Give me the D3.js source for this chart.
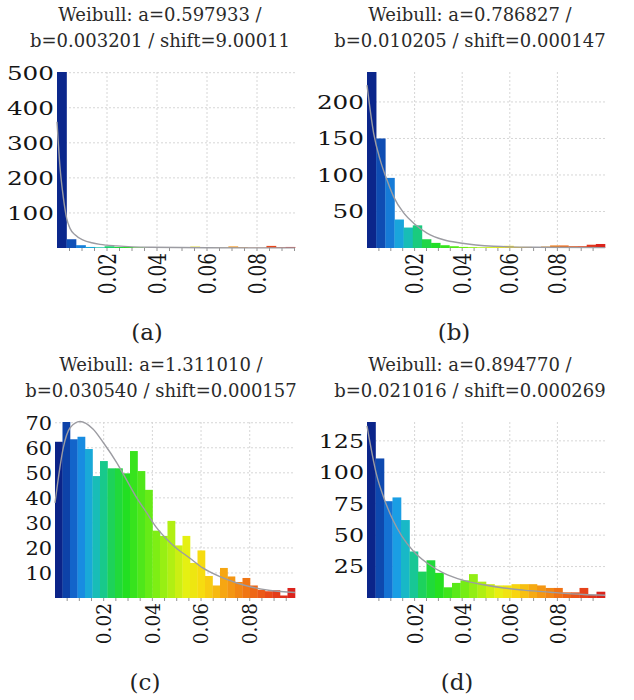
<!DOCTYPE html>
<html>
<head>
<meta charset="utf-8">
<script src="https://cdn.jsdelivr.net/npm/d3@7"></script>
<style>
  body { margin: 0; background: #fff; }
  text { font-family: "DejaVu Serif", serif; }
</style>
</head>
<body>
<svg id="chart" width="634" height="700"></svg>
<script>
// histogram counts, one bin per bar (equal width bins from 0 to xMax)
var countsA = [502,25,8,3,2,5,3,3,2,1.5,1,1,1,1,4,2,1,1,4.5,2,1,1,6,2,3];
var countsB = [241,150,96,39,28,31,12,7,3.8,2.4,1.5,1.2,1,1.2,2.5,3,1.5,1.5,1.2,2,3.5,3.5,2.5,2.5,4.5,5.5];
var countsC = [62.4,70.3,63.4,64.4,59.5,48.7,54.7,51.8,51.8,49.8,58.7,50.7,43.2,26.9,24.8,30.8,
               21,24.8,14,19,8.8,5,12,8.6,6.4,8,5,3.3,2.7,3.1,1,4];
var countsD = [140,111,77,80,62,37,21,30,20,8.5,12,14,19,13,11,10,10,11,11,11,10,8,8,4.5,4.5,8,2.5,5];

var xMax = [0.0952, 0.1, 0.0986, 0.1];

// fitted weibull curves as [x, count]
var curveA = [[0,360],[0.0012,231],[0.0025,146],[0.0039,84],[0.0052,56],[0.0072,37.6],[0.0105,22.7],
              [0.0139,15],[0.0172,10.5],[0.0239,6],[0.0372,2],[0.06,0.7],[0.0952,0.3]];
var curveB = [[0,223],[0.0028,157],[0.0056,120],[0.0084,93],[0.0112,70],[0.0154,48],[0.0196,34],
              [0.0252,20.5],[0.0322,11.3],[0.0392,6.8],[0.0532,2.3],[0.07,1],[0.1,0.5]];
var curveC = [[0,38],[0.0034,60],[0.0062,68],[0.0103,70.5],[0.0156,67.5],[0.0199,62],[0.0254,54],
              [0.0295,47],[0.0336,40],[0.0377,34],[0.0418,28],[0.0459,23.5],[0.05,19.8],[0.0553,16],
              [0.0607,12],[0.0678,8.5],[0.0747,6],[0.0815,4.2],[0.0884,3],[0.0986,2.2]];
var curveD = [[0,137],[0.0039,99],[0.0074,78],[0.0109,62],[0.0147,49],[0.0196,37],[0.0252,27.8],
              [0.0322,19.8],[0.0406,14],[0.049,10.5],[0.0574,8],[0.0658,6.3],[0.077,4.6],[0.091,2.8],[0.1,2.2]];

var yTicksA = [100,200,300,400,500];
var yTicksB = [50,100,150,200];
var yTicksC = [10,20,30,40,50,60,70];
var yTicksD = [25,50,75,100,125];
var xTicks = [0.02,0.04,0.06,0.08];

var titles = [
  ["Weibull: a=0.597933 /", "b=0.003201 / shift=9.00011"],
  ["Weibull: a=0.786827 /", "b=0.010205 / shift=0.000147"],
  ["Weibull: a=1.311010 /", "b=0.030540 / shift=0.000157"],
  ["Weibull: a=0.894770 /", "b=0.021016 / shift=0.000269"]
];
var captions = ["(a)","(b)","(c)","(d)"];

// layout of the four panels
var boxes = [
  {left:57,  right:295, top:72,  bottom:248, titleX:160, titleY:21,  capX:147, capY:340, stretch:1.3},
  {left:367, right:605, top:72,  bottom:248, titleX:470, titleY:21,  capX:454, capY:340, stretch:1.3},
  {left:55,  right:295, top:422, bottom:598, titleX:161, titleY:371, capX:145, capY:690, stretch:1.1},
  {left:367, right:605, top:422, bottom:598, titleX:470, titleY:371, capX:457, capY:690, stretch:1.25}
];

var colorPos = [0,0.04,0.08,0.12,0.16,0.2,0.24,0.3,0.42,0.55,0.62,0.7,0.8,0.9,1];
var colorVal = ["#0a1478","#0c3aa0","#1366cc","#1a9ae8","#18b8c8","#18c890","#1ed450","#22e020",
                "#7cee14","#e8f012","#f8d810","#f6a812","#f07414","#e8461a","#d81c1c"];
var jet = d3.scaleLinear().domain(colorPos).range(colorVal).interpolate(d3.interpolateRgb);

var allCounts = [countsA, countsB, countsC, countsD];
var allCurves = [curveA, curveB, curveC, curveD];
var allYTicks = [yTicksA, yTicksB, yTicksC, yTicksD];

var svg = d3.select("#chart");

function drawPanel(k) {
  var b = boxes[k];
  var counts = allCounts[k];
  var n = counts.length;
  var binW = xMax[k] / n;
  var g = svg.append("g");

  var x = d3.scaleLinear().domain([0, xMax[k]]).range([b.left, b.right]);
  var y = d3.scaleLinear().domain([0, d3.max(counts)]).range([b.bottom, b.top]);

  // grid
  g.selectAll(".hg").data(allYTicks[k]).enter().append("line")
    .attr("x1", b.left).attr("x2", b.right)
    .attr("y1", function(d){ return y(d); }).attr("y2", function(d){ return y(d); })
    .attr("stroke", "#d6d6d6").attr("stroke-dasharray", "2,2");
  g.selectAll(".vg").data(xTicks).enter().append("line")
    .attr("x1", function(d){ return x(d); }).attr("x2", function(d){ return x(d); })
    .attr("y1", b.top).attr("y2", b.bottom)
    .attr("stroke", "#d6d6d6").attr("stroke-dasharray", "2,2");

  // bars
  g.selectAll(".bar").data(counts).enter().append("rect")
    .attr("x", function(d, i){ return x(i * binW); })
    .attr("width", function(d, i){ return x((i + 1) * binW) - x(i * binW) + 0.3; })
    .attr("y", function(d){ return y(d); })
    .attr("height", function(d){ return b.bottom - y(d); })
    .attr("fill", function(d, i){ return jet((i + 0.5) / n); });

  // minor ticks along the bottom
  var minor = d3.range(0.005, xMax[k], 0.005);
  g.selectAll(".mt").data(minor).enter().append("line")
    .attr("x1", function(d){ return x(d); }).attr("x2", function(d){ return x(d); })
    .attr("y1", b.bottom).attr("y2", b.bottom + 3)
    .attr("stroke", "#777").attr("stroke-width", 0.8);

  // fitted curve
  var line = d3.line()
    .x(function(d){ return x(d[0]); })
    .y(function(d){ return y(d[1]); })
    .curve(d3.curveMonotoneX);
  g.append("path").datum(allCurves[k])
    .attr("d", line)
    .attr("fill", "none")
    .attr("stroke", "#9c9ca2")
    .attr("stroke-width", 1.4);

  // y labels
  g.selectAll(".yl").data(allYTicks[k]).enter().append("text")
    .attr("transform", function(d){ return "translate(" + (b.left - 3) + "," + y(d) + ") scale(" + b.stretch + ",1)"; })
    .attr("text-anchor", "end")
    .attr("dy", "0.36em")
    .attr("font-size", 19)
    .attr("fill", "#141414")
    .text(function(d){ return d; });

  // x labels, rotated
  g.selectAll(".xl").data(xTicks).enter().append("text")
    .attr("transform", function(d){ return "translate(" + x(d) + "," + (b.bottom + 5) + ") scale(" + b.stretch + ",1) rotate(-90)"; })
    .attr("text-anchor", "end")
    .attr("dy", "0.36em")
    .attr("font-size", 18.5)
    .attr("fill", "#141414")
    .text(function(d){ return d3.format(".2f")(d); });

  // title
  g.selectAll(".tt").data(titles[k]).enter().append("text")
    .attr("x", b.titleX)
    .attr("y", function(d, i){ return b.titleY + i * 26; })
    .attr("text-anchor", "middle")
    .attr("font-size", 18)
    .attr("fill", "#2a2a2a")
    .text(function(d){ return d; });

  // caption
  g.append("text")
    .attr("x", b.capX).attr("y", b.capY)
    .attr("text-anchor", "middle")
    .attr("font-size", 23)
    .attr("fill", "#222")
    .text(captions[k]);
}

for (var k = 0; k < 4; k++) drawPanel(k);
</script>
</body>
</html>
